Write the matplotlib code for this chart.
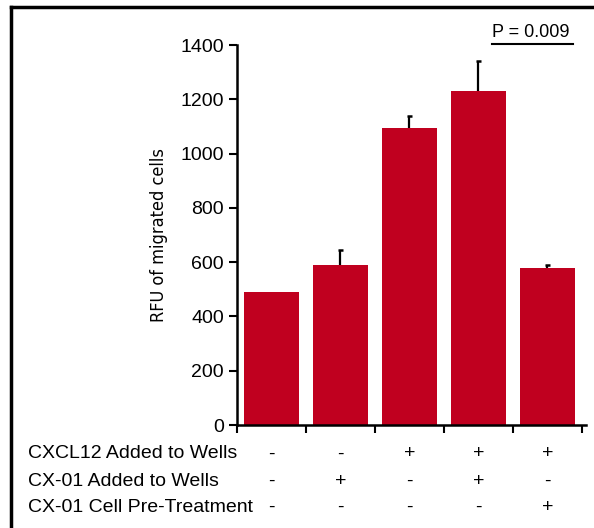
import numpy as np
import matplotlib.pyplot as plt
from matplotlib.lines import Line2D

# data
rfu = [491, 589, 1095, 1232, 580]
err = [0, 54, 43, 110, 8]
row_labels = ['CXCL12 Added to Wells', 'CX-01 Added to Wells', 'CX-01 Cell Pre-Treatment']
cxcl12 = ['-', '-', '+', '+', '+']
cx01_wells = ['-', '+', '-', '+', '-']
cx01_pre = ['-', '-', '-', '-', '+']
yticks = [0, 200, 400, 600, 800, 1000, 1200, 1400]

red = '#c0001f'
plt.rcParams['font.family'] = ['Liberation Sans', 'DejaVu Sans']

fig = plt.figure(figsize=(5.94, 5.28), dpi=100)
ax = fig.add_axes([237/594, 103/528, 349/594, 380/528])

x = np.arange(len(rfu))
ax.bar(x, rfu, width=0.79, color=red, zorder=2)
# upper-only error bars
top = np.array(rfu) + np.array(err)
has_err = np.array(err) > 0
ax.vlines(x[has_err], np.array(rfu)[has_err], top[has_err], color='black', lw=1.6, zorder=3)
ax.hlines(top[has_err], x[has_err] - 0.035, x[has_err] + 0.035, color='black', lw=1.8, zorder=3)

ax.set_xlim(-0.5, 4.56)
ax.set_ylim(0, 1400)
ax.set_yticks(yticks)
ax.set_yticklabels([str(v) for v in yticks], fontsize=14)
ax.set_xticks(np.arange(-0.5, 5, 1))
ax.set_xticklabels([])
ax.tick_params(axis='both', direction='out', length=6, width=1.5)
ax.tick_params(axis='y', pad=3.5)
for s in ['top', 'right']:
    ax.spines[s].set_visible(False)
for s in ['left', 'bottom']:
    ax.spines[s].set_linewidth(1.8)

ax.set_ylabel('RFU of migrated cells', fontsize=13, fontstretch='condensed',
              family=['Liberation Sans Narrow', 'DejaVu Sans'], labelpad=9)

# condition table under the bars
rows = [cxcl12, cx01_wells, cx01_pre]
row_px = [454, 481, 507]
for lab, vals, yp in zip(row_labels, rows, row_px):
    fy = 1 - yp / 528
    fig.text(28/594, fy, lab, ha='left', va='center', fontsize=14)
    for xi, v in zip(x, vals):
        xf = ax.transData.transform((xi, 0))[0] / fig.bbox.width
        fig.text(xf, fy, v, ha='center', va='center', fontsize=14)

# p-value annotation
ax.text(3.2, 1446, 'P = 0.009', ha='left', va='center', fontsize=13, clip_on=False)
ax.plot([3.2, 4.37], [1404, 1404], color='black', lw=1.5, clip_on=False)

# partial frame around the figure
fig.add_artist(Line2D([11/594, 1], [1 - 7/528, 1 - 7/528], transform=fig.transFigure,
                      color='black', lw=2.5))
fig.add_artist(Line2D([11/594, 11/594], [0, 1 - 7/528], transform=fig.transFigure,
                      color='black', lw=2.5))

fig.savefig('out.png', dpi=100)
